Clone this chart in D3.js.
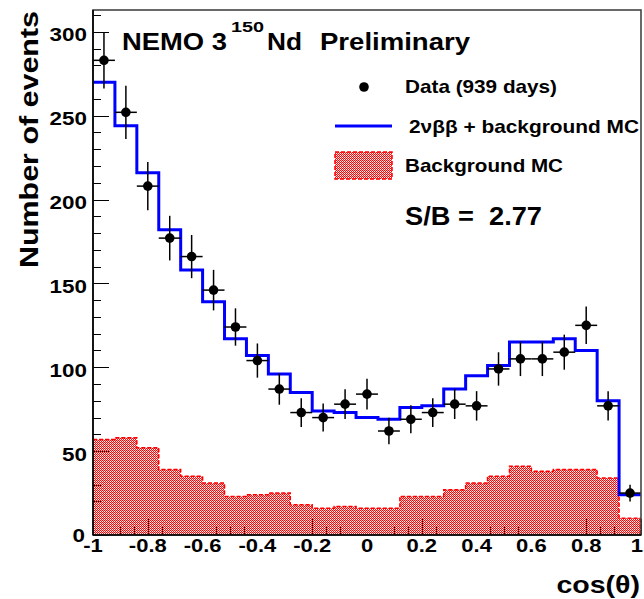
<!DOCTYPE html>
<html>
<head>
<meta charset="utf-8">
<script src="https://cdn.jsdelivr.net/npm/d3@7"></script>
<style>
  html, body { margin: 0; padding: 0; background: #fff; }
  svg { display: block; }
  text { font-family: "Liberation Sans", Arial, Helvetica, sans-serif; font-weight: bold; fill: #000; white-space: pre; }
</style>
</head>
<body>
<svg id="chart" width="644" height="599"></svg>
<script>
// cos(theta) histogram binning: 25 bins on [-1, 1]
const binLo = -1, binHi = 1, nBins = 25;

// Observed events per bin (Data, 939 days)
const dataCounts = [283, 252, 208, 177, 166, 146, 124, 104, 87, 73, 70, 78, 84,
                    62, 69, 73, 78, 77, 99, 105, 105, 109, 125, 77, 25];

// 2vbb + background Monte Carlo per bin
const totalMC = [270, 244, 216, 182, 158, 139, 117, 107, 96, 85, 74, 73, 70,
                 69, 76, 77, 87, 95, 101, 115, 115, 117, 110, 80, 24];

// Background Monte Carlo per bin
const backgroundMC = [57, 58, 52, 39, 35, 31, 23, 24, 25, 18, 16, 17, 16,
                      16, 23, 23, 27, 31, 35, 41, 38, 39, 39, 34, 10];

// Axis tick labels
const xTickValues = [-1, -0.8, -0.6, -0.4, -0.2, 0, 0.2, 0.4, 0.6, 0.8, 1];
const xTickLabels = ["-1", "-0.8", "-0.6", "-0.4", "-0.2", "0", "0.2", "0.4", "0.6", "0.8", "1"];
const yTickValues = [0, 50, 100, 150, 200, 250, 300];
const yTickLabels = ["0", "50", "100", "150", "200", "250", "300"];

const svg = d3.select("#chart");
const frame = { left: 93, right: 641, top: 10, bottom: 535 };

const x = d3.scaleLinear().domain([binLo, binHi]).range([frame.left, frame.right]);
const y = d3.scaleLinear().domain([0, 313]).range([frame.bottom, frame.top]);

const binWidth = (binHi - binLo) / nBins;
const binStart = i => binLo + i * binWidth;
const binCenter = i => binLo + (i + 0.5) * binWidth;

// Text helper: bold sans text, optionally stretched horizontally or fitted to a length
function label(parent, str, px, py, opts) {
  const o = Object.assign({ size: 18, anchor: "start", sx: 1, rotate: 0, length: null }, opts);
  const g = parent.append("g")
    .attr("transform", `translate(${px},${py}) rotate(${o.rotate}) scale(${o.sx},1)`);
  const t = g.append("text")
    .attr("x", 0).attr("y", 0)
    .attr("text-anchor", o.anchor)
    .style("font-size", o.size + "px")
    .text(str);
  if (o.length) {
    t.attr("textLength", o.length).attr("lengthAdjust", "spacingAndGlyphs");
  }
  return t;
}

// Fill pattern for the background histogram: red dots, partly see-through
const defs = svg.append("defs");
const pat = defs.append("pattern")
  .attr("id", "bgFill")
  .attr("patternUnits", "userSpaceOnUse")
  .attr("width", 2).attr("height", 2);
pat.append("rect").attr("x", 0).attr("y", 0).attr("width", 1).attr("height", 1).attr("fill", "#ff0000");
pat.append("rect").attr("x", 1).attr("y", 1).attr("width", 1).attr("height", 1).attr("fill", "#ff1010");
pat.append("rect").attr("x", 1).attr("y", 0).attr("width", 1).attr("height", 1).attr("fill", "#ffb4b4");

// Axis ticks drawn inside the frame (they show through the background fill)
const ticks = svg.append("g").attr("class", "ticks")
  .attr("stroke", "#000").attr("stroke-width", 1.2).attr("shape-rendering", "crispEdges");

const yMinor = d3.range(0, 320, 10);
ticks.selectAll("line.ytick").data(yMinor).join("line")
  .attr("class", "ytick")
  .attr("x1", frame.left)
  .attr("x2", d => frame.left + (d % 50 === 0 ? 16 : 8))
  .attr("y1", d => Math.round(y(d)) + 0.5)
  .attr("y2", d => Math.round(y(d)) + 0.5);

const xMinor = d3.range(0, 41).map(i => binLo + i * 0.05);
ticks.selectAll("line.xtick").data(xMinor).join("line")
  .attr("class", "xtick")
  .attr("x1", d => Math.round(x(d)) + 0.5)
  .attr("x2", d => Math.round(x(d)) + 0.5)
  .attr("y1", frame.bottom)
  .attr("y2", (d, i) => frame.bottom - (i % 4 === 0 ? 16 : 8));

// Step outline of a histogram across all bins
function stepPoints(values) {
  const pts = [];
  values.forEach((v, i) => {
    pts.push([x(binStart(i)), y(v)]);
    pts.push([x(binStart(i + 1)), y(v)]);
  });
  return pts;
}

// Background MC: filled area with dashed outline
const bgArea = d3.area()
  .x(d => d[0]).y0(y(0)).y1(d => d[1]);
svg.append("path")
  .datum(stepPoints(backgroundMC))
  .attr("d", bgArea)
  .attr("fill", "url(#bgFill)");
svg.append("path")
  .datum(stepPoints(backgroundMC))
  .attr("d", d3.line())
  .attr("fill", "none")
  .attr("stroke", "#ff0000")
  .attr("stroke-width", 1.5)
  .attr("stroke-dasharray", "4,2");
// right edge of the last background bin
svg.append("line")
  .attr("x1", x(binHi) - 0.75).attr("x2", x(binHi) - 0.75)
  .attr("y1", y(backgroundMC[nBins - 1])).attr("y2", y(0))
  .attr("stroke", "#ff0000").attr("stroke-width", 1.5).attr("stroke-dasharray", "4,2");

// 2vbb + background MC: blue step line
svg.append("path")
  .datum(stepPoints(totalMC))
  .attr("d", d3.line())
  .attr("fill", "none")
  .attr("stroke", "#0000ff")
  .attr("stroke-width", 3);

// Data points with Poisson error bars
const pts = svg.append("g").attr("class", "data");
const dataRows = dataCounts.map((v, i) => ({ i, v, err: Math.sqrt(v) }));
pts.selectAll("line.ex").data(dataRows).join("line")
  .attr("class", "ex")
  .attr("x1", d => x(binStart(d.i))).attr("x2", d => x(binStart(d.i + 1)))
  .attr("y1", d => y(d.v)).attr("y2", d => y(d.v))
  .attr("stroke", "#000").attr("stroke-width", 1.5);
pts.selectAll("line.ey").data(dataRows).join("line")
  .attr("class", "ey")
  .attr("x1", d => x(binCenter(d.i))).attr("x2", d => x(binCenter(d.i)))
  .attr("y1", d => y(d.v - d.err)).attr("y2", d => y(d.v + d.err))
  .attr("stroke", "#000").attr("stroke-width", 1.5);
pts.selectAll("circle").data(dataRows).join("circle")
  .attr("cx", d => x(binCenter(d.i))).attr("cy", d => y(d.v))
  .attr("r", 4.8).attr("fill", "#000");

// Frame
svg.append("rect")
  .attr("x", frame.left).attr("y", frame.top)
  .attr("width", frame.right - frame.left).attr("height", frame.bottom - frame.top)
  .attr("fill", "none").attr("stroke", "#444").attr("stroke-width", 1.6);
svg.append("line")
  .attr("x1", frame.left).attr("x2", frame.left).attr("y1", frame.top).attr("y2", frame.bottom)
  .attr("stroke", "#000").attr("stroke-width", 1.6);
svg.append("line")
  .attr("x1", frame.left).attr("x2", frame.right).attr("y1", frame.bottom).attr("y2", frame.bottom)
  .attr("stroke", "#000").attr("stroke-width", 1.6);

// Tick labels
const labels = svg.append("g");
yTickValues.forEach((v, k) => {
  const px = v === 0 ? 85 : 87;
  label(labels, yTickLabels[k], px, y(v) + (v === 0 ? 7 : 9.5), { size: 19, anchor: "end", sx: 1.18 });
});
xTickValues.forEach((v, k) => {
  const px = v === binHi ? 643 : x(v);
  label(labels, xTickLabels[k], px, 552, { size: 18.5, anchor: v === binHi ? "end" : "middle", sx: 1.19 });
});

// Axis titles
label(labels, "cos(\u03b8)", 640, 593, { size: 24, anchor: "end", sx: 1.19 });
label(labels, "Number of events", 38, 268, { size: 26, anchor: "start", rotate: -90, length: 257 });

// Header
label(labels, "NEMO 3", 122, 50, { size: 23, length: 105 });
label(labels, "150", 231, 32, { size: 14, length: 33 });
label(labels, "Nd", 267, 50, { size: 23, length: 35 });
label(labels, "Preliminary", 320, 50, { size: 23, length: 150 });

// Legend
const leg = svg.append("g");
leg.append("circle").attr("cx", 364).attr("cy", 87).attr("r", 4.8).attr("fill", "#000");
label(leg, "Data (939 days)", 405, 93, { size: 19, length: 152 });
leg.append("line").attr("x1", 335).attr("x2", 392).attr("y1", 126).attr("y2", 126)
  .attr("stroke", "#0000ff").attr("stroke-width", 3);
label(leg, "2\u03bd\u03b2\u03b2 + background MC", 409, 133, { size: 19, length: 230 });
leg.append("rect").attr("x", 335).attr("y", 152).attr("width", 57).attr("height", 27)
  .attr("fill", "url(#bgFill)").attr("stroke", "#ff0000").attr("stroke-width", 1.5)
  .attr("stroke-dasharray", "4,2");
label(leg, "Background MC", 405, 172, { size: 19, length: 158 });
label(leg, "S/B =\u00a0 2.77", 405, 225, { size: 25, length: 137 });
</script>
</body>
</html>
